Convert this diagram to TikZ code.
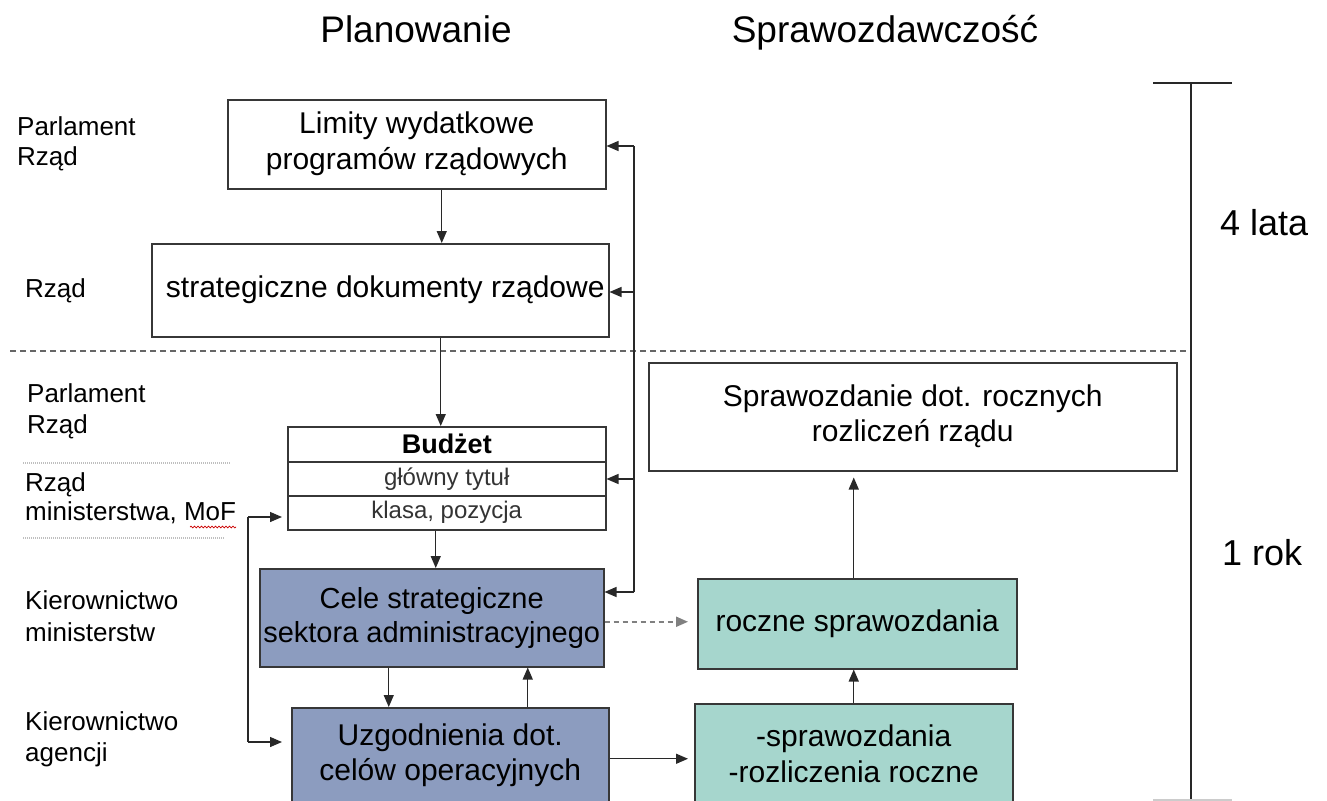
\documentclass[tikz,border=0pt]{standalone}
\usepackage{fontspec}
\setmainfont{Liberation Sans}
\usetikzlibrary{arrows.meta,decorations.pathmorphing}
\definecolor{bluegray}{RGB}{140,156,191}
\definecolor{tealbox}{RGB}{166,214,205}
\definecolor{edgecol}{RGB}{55,55,55}
\definecolor{linecol}{RGB}{40,40,40}
\newcommand\fsz[2]{\fontsize{#1}{#2}\selectfont}
\begin{document}
\begin{tikzpicture}[x=1pt,y=-1pt,
  box/.style={draw=edgecol,line width=1.5pt,inner sep=0pt,align=center,anchor=north west,font=\fsz{30}{36}},
  row/.style={draw=edgecol,line width=1.5pt,inner sep=0pt,align=center,anchor=north west,minimum width=318pt},
  lab/.style={anchor=base west,align=left,inner sep=0pt,font=\fsz{26}{30}},
  title/.style={anchor=base,inner sep=0pt,font=\fsz{37}{40}},
  span/.style={anchor=base west,inner sep=0pt,font=\fsz{36}{40}},
  conn/.style={draw=linecol,line width=1.3pt},
  arr/.style={conn,-{Triangle[length=12pt,width=10pt]}},
  darr/.style={draw=gray,line width=2pt,dash pattern=on 5pt off 4pt,-{Triangle[length=12pt,width=10pt]}},
  sep/.style={draw=gray!80!black,line width=1.1pt,dash pattern=on 6pt off 4pt},
  dotsep/.style={draw=gray!50,line width=1.6pt,dash pattern=on 1pt off 1pt},
  bracket/.style={draw=linecol,line width=1.3pt}
]
\useasboundingbox (0,0) rectangle (1327,800);
\fill[white] (0,0) rectangle (1327,800);

% titles
\node[title] (tplan) at (416,43) {Planowanie};
\node[title] (tspr) at (885,43) {Sprawozdawczość};

% left labels (anchor = baseline of the last line)
\node[lab] (l1) at (17,165) {Parlament\\Rząd};
\node[lab] (l2) at (25,297) {Rząd};
\node[lab,font=\fsz{26}{31}] (l3) at (27,433) {Parlament\\Rząd};
\node[lab,font=\fsz{26}{29}] (l4) at (25,520) {Rząd\\ministerstwa, MoF};
\node[lab,font=\fsz{26}{32}] (l5) at (25,641) {Kierownictwo\\ministerstw};
\node[lab,font=\fsz{26}{31}] (l6) at (25,761) {Kierownictwo\\agencji};
\draw[dotsep] (23,463) -- (230,463);
\draw[dotsep] (23,538) -- (225,538);
\draw[red!80!black,line width=0.7pt,decorate,decoration={snake,amplitude=0.9pt,segment length=3.5pt}] (190,527) -- (236,527);

% planning boxes
\node[box,minimum width=378pt,minimum height=89pt] (lim) at (227,99) {Limity wydatkowe\\programów rządowych};
\node[box,minimum width=457pt,minimum height=93pt] (strat) at (151,243) {\hspace*{10pt}strategiczne dokumenty rządowe};
\node[row,minimum height=35pt,font=\bfseries\fsz{27}{30}] (budA) at (287,426) {Budżet};
\node[row,minimum height=34pt,font=\fsz{24}{28},text=black!80] (budB) at (287,461) {główny tytuł};
\node[row,minimum height=34pt,font=\fsz{24}{28},text=black!80] (budC) at (287,495) {klasa, pozycja};
\node[box,fill=bluegray,minimum width=344pt,minimum height=98pt,font=\fsz{29}{34}] (cele) at (259,568) {Cele strategiczne\\sektora administracyjnego};
\node[box,fill=bluegray,minimum width=317pt,minimum height=95pt,font=\fsz{30}{35}] (uzg) at (291,707) {Uzgodnienia dot.\\celów operacyjnych};

% reporting boxes
\node[box,minimum width=528pt,minimum height=108pt,font=\fsz{30}{35}] (spr) at (648,362) {Sprawozdanie dot. rocznych\\rozliczeń rządu};
\node[box,fill=tealbox,minimum width=319pt,minimum height=90pt] (rocz) at (697,578) {roczne sprawozdania};
\node[box,fill=tealbox,minimum width=318pt,minimum height=100pt,font=\fsz{30}{36}] (rozl) at (694,703) {-sprawozdania\\-rozliczenia roczne};

% separators and time bracket
\draw[sep] (10,351) -- (1191,351);
\coordinate (bt) at (1191,83);
\coordinate (bb) at (1191,800);
\draw[bracket] (1153,83) -- (1232,83);
\draw[bracket] (bt) -- (bb);
\draw[draw=gray!40,line width=1.3pt] (1153,800) -- (1232,800);
\node[span] (t4) at (1220,235) {4 lata};
\node[span] (t1) at (1222,565) {1 rok};

% planning connectors
\draw[arr] ([xshift=25pt]lim.south) -- ([xshift=25pt]lim.south |- strat.north);
\draw[arr] ([xshift=-6pt]budA.north |- strat.south) -- ([xshift=-6pt]budA.north);
\draw[arr] ([xshift=-11pt]budC.south) -- ([xshift=-11pt]budC.south |- cele.north);
\draw[arr] ([xshift=-43pt]cele.south) -- ([xshift=-43pt]cele.south |- uzg.north);
\draw[arr] ([xshift=77.5pt]uzg.north) -- ([xshift=77.5pt]uzg.north |- cele.south);

% feedback line
\coordinate (fb1) at (634,146);
\coordinate (fb2) at (634,292);
\coordinate (fb3) at (634,479);
\coordinate (fb4) at (634,592);
\draw[conn] (fb1) -- (fb4);
\draw[arr] (fb1) -- (fb1 -| lim.east);
\draw[arr] (fb2) -- (fb2 -| strat.east);
\draw[arr] (fb3) -- (fb3 -| budB.east);
\draw[arr] (fb4) -- (fb4 -| cele.east);

% ministries line
\coordinate (m1) at (248,517);
\coordinate (m2) at (248,742);
\draw[conn] (m1) -- (m2);
\draw[arr,shorten >=5pt] (m1) -- (m1 -| budC.west);
\draw[arr,shorten >=9pt] (m2) -- (m2 -| uzg.west);

% reporting connectors
\draw[darr,shorten >=9pt] ([yshift=-4pt]cele.east) -- ([yshift=-4pt]cele.east -| rocz.west);
\draw[arr,shorten >=6pt] ([yshift=-3.5pt]uzg.east) -- ([yshift=-3.5pt]uzg.east -| rozl.west);
\draw[arr] (rozl.north) -- (rozl.north |- rocz.south);
\draw[arr,shorten >=6pt] ([xshift=-3.5pt]rocz.north) -- ([xshift=-3.5pt]rocz.north |- spr.south);
\end{tikzpicture}
\end{document}
